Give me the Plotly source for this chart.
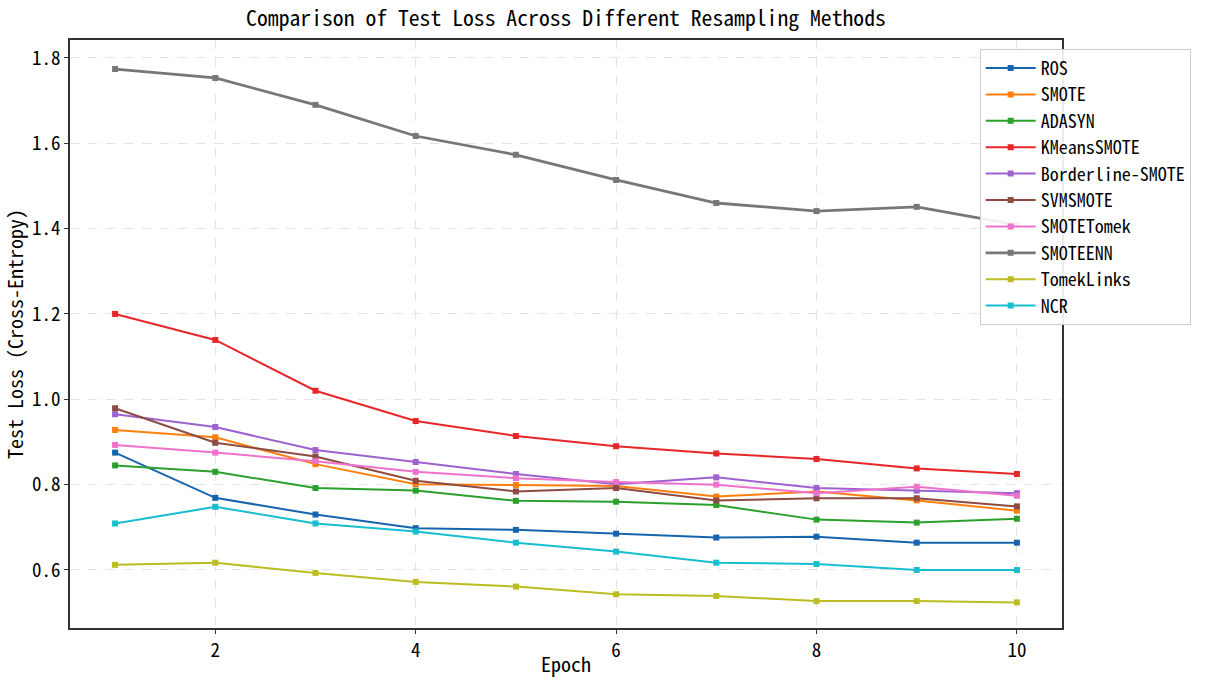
import plotly.graph_objects as go

epochs = [1, 2, 3, 4, 5, 6, 7, 8, 9, 10]
methods = ["ROS", "SMOTE", "ADASYN", "KMeansSMOTE", "Borderline-SMOTE",
           "SVMSMOTE", "SMOTETomek", "SMOTEENN", "TomekLinks", "NCR"]

ros = [0.875, 0.769, 0.730, 0.698, 0.694, 0.685, 0.676, 0.678, 0.664, 0.664]
smote = [0.928, 0.911, 0.848, 0.801, 0.799, 0.797, 0.772, 0.784, 0.763, 0.739]
adasyn = [0.845, 0.830, 0.792, 0.786, 0.762, 0.760, 0.752, 0.718, 0.711, 0.720]
kmeans_smote = [1.200, 1.139, 1.020, 0.949, 0.914, 0.890, 0.873, 0.860, 0.838, 0.825]
borderline_smote = [0.965, 0.935, 0.881, 0.853, 0.825, 0.801, 0.817, 0.792, 0.786, 0.780]
svmsmote = [0.979, 0.898, 0.866, 0.809, 0.784, 0.792, 0.763, 0.768, 0.768, 0.749]
smotetomek = [0.893, 0.875, 0.855, 0.830, 0.815, 0.806, 0.800, 0.780, 0.795, 0.774]
smoteenn = [1.774, 1.753, 1.690, 1.617, 1.573, 1.514, 1.460, 1.441, 1.451, 1.409]
tomeklinks = [0.612, 0.617, 0.593, 0.572, 0.561, 0.543, 0.539, 0.527, 0.527, 0.524]
ncr = [0.709, 0.748, 0.709, 0.690, 0.664, 0.643, 0.617, 0.614, 0.600, 0.600]

series = [ros, smote, adasyn, kmeans_smote, borderline_smote,
          svmsmote, smotetomek, smoteenn, tomeklinks, ncr]
colors = ["#1764ae", "#ff7f0e", "#2ca02c", "#e8262a", "#9e62d0",
          "#8c4b43", "#ee72cc", "#777777", "#bcbd22", "#17becf"]
widths = [2, 2, 2, 2, 2, 2, 2, 2.8, 2, 2]

MONO = "Noto Sans Mono CJK SC, Liberation Mono, DejaVu Sans Mono, monospace"

fig = go.Figure()
for name, vals, col, w in zip(methods, series, colors, widths):
    fig.add_trace(go.Scatter(
        x=epochs, y=vals, name=name, mode="lines+markers",
        line=dict(color=col, width=w),
        marker=dict(symbol="square", size=6, color=col),
        legendgroup=name,
    ))

fig.update_layout(
    width=1205, height=678,
    margin=dict(l=70, r=143, t=40, b=50, autoexpand=False),
    paper_bgcolor="white", plot_bgcolor="white",
    font=dict(family=MONO, size=15, color="black"),
    title=dict(text="Comparison of Test Loss Across Different Resampling Methods",
               x=566 / 1205, xanchor="center", y=1 - 18 / 678, yanchor="middle",
               font=dict(size=21.7, family=MONO)),
    legend=dict(x=0.917, y=0.985, xanchor="left", yanchor="top",
                bgcolor="rgba(255,255,255,0.9)", bordercolor="#cccccc", borderwidth=1,
                font=dict(size=18, family=MONO), tracegroupgap=0,
                itemwidth=50),
    showlegend=True,
)
fig.update_xaxes(
    range=[0.55, 10.45], tickvals=[2, 4, 6, 8, 10],
    showgrid=True, gridcolor="#e3e3e3", griddash="dash", gridwidth=1,
    showline=True, linecolor="#333333", linewidth=1.5, mirror=True,
    ticks="outside", ticklen=4, tickcolor="#333333",
    zeroline=False, automargin=False,
    title=dict(text="Epoch", font=dict(size=20, family=MONO), standoff=4),
    tickfont=dict(size=19, family=MONO),
)
fig.update_yaxes(
    range=[0.464, 1.842], tickvals=[0.6, 0.8, 1.0, 1.2, 1.4, 1.6, 1.8],
    ticktext=["0.6", "0.8", "1.0", "1.2", "1.4", "1.6", "1.8"],
    showgrid=True, gridcolor="#e3e3e3", griddash="dash", gridwidth=1,
    showline=True, linecolor="#333333", linewidth=1.5, mirror=True,
    ticks="outside", ticklen=4, tickcolor="#333333",
    zeroline=False, automargin=False,
    title=dict(text="Test Loss (Cross-Entropy)", font=dict(size=20, family=MONO), standoff=6),
    tickfont=dict(size=19, family=MONO),
)

fig.write_html("out.html")
